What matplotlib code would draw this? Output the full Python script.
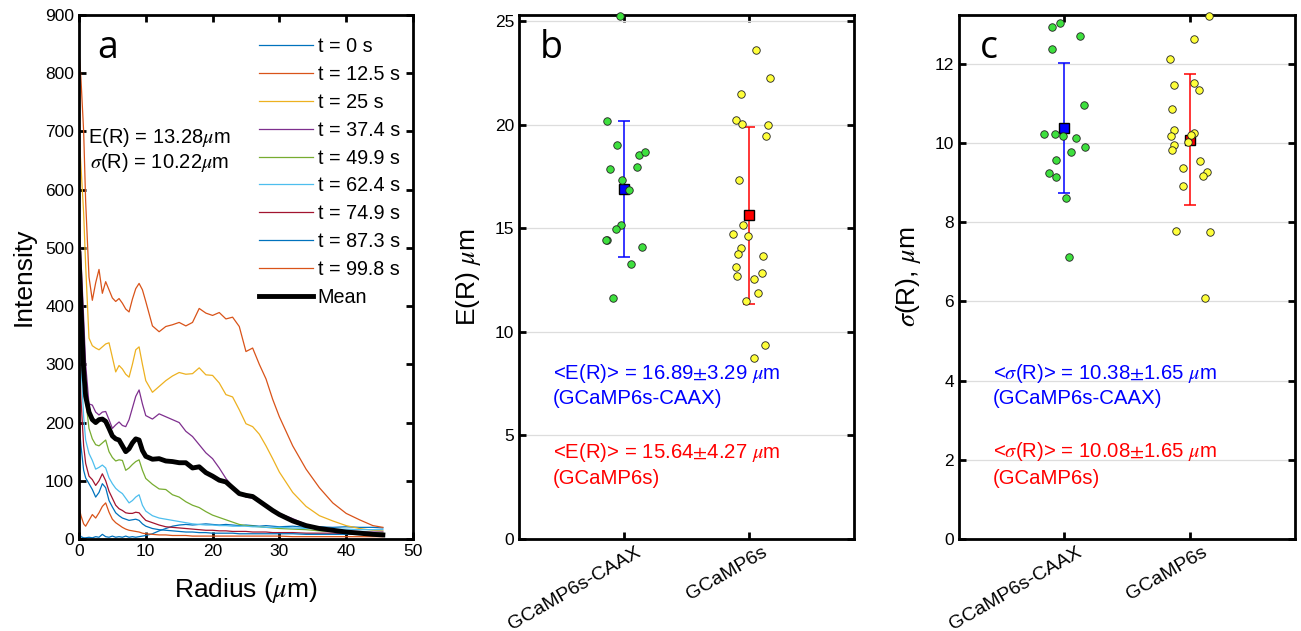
import matplotlib
matplotlib.use("Agg")
import matplotlib.pyplot as plt
import matplotlib.transforms as mtransforms

plt.rcParams['font.family'] = ['Liberation Sans', 'DejaVu Sans']
plt.rcParams['mathtext.fontset'] = 'stix'

# ---- panel a: radial intensity profiles ----
radius = [0, 0.3, 0.7, 1, 1.5, 2, 2.5, 3, 3.5, 4, 4.5, 5, 5.5, 6, 6.5, 7, 7.5, 8, 8.5, 9, 9.5, 10,
          11, 12, 13, 14, 15, 16, 17, 18, 19, 20, 21, 22, 23, 24, 25, 26, 27, 28, 29, 30,
          32, 34, 36, 38, 40, 42, 44, 45.5]

prof_t0 = [10, 4, 2, 2, 3, 2, 4, 3, 8, 4, 3, 5, 3, 4, 3, 5, 3, 4, 3, 4, 5, 6,
           9, 14, 18, 22, 24, 25, 24, 25, 26, 25, 24, 25, 24, 23, 24, 23, 22, 23, 22, 21,
           22, 20, 21, 20, 21, 20, 20, 19]
prof_t12 = [840, 790, 700, 580, 450, 410, 440, 463, 422, 442, 428, 414, 408, 413, 405, 395, 390, 412, 430, 439, 428, 408,
            366, 356, 365, 368, 372, 366, 372, 396, 388, 384, 389, 378, 381, 365, 322, 328, 300, 275, 240, 210,
            160, 120, 88, 62, 44, 33, 23, 20]
prof_t25 = [700, 640, 560, 470, 345, 332, 328, 325, 330, 335, 337, 312, 287, 298, 292, 283, 278, 300, 325, 330, 300, 272,
            252, 262, 272, 280, 286, 283, 284, 294, 282, 281, 268, 248, 244, 222, 198, 193, 180, 160, 138, 115,
            80, 56, 40, 31, 23, 18, 15, 14]
prof_t37 = [560, 480, 380, 300, 232, 230, 218, 213, 218, 219, 205, 190, 196, 201, 195, 193, 205, 225, 245, 256, 232, 212,
            206, 215, 210, 205, 200, 185, 176, 162, 148, 138, 122, 104, 90, 80, 72, 70, 64, 57, 50, 44,
            35, 25, 19, 16, 14, 13, 12, 12]
prof_t49 = [495, 400, 300, 240, 190, 172, 162, 160, 165, 170, 150, 140, 134, 136, 135, 118, 122, 128, 133, 136, 118, 104,
            94, 86, 85, 76, 72, 64, 58, 54, 47, 41, 37, 33, 29, 25, 23, 22, 21, 20, 19, 18,
            17, 16, 14, 13, 12, 12, 11, 10]
prof_t62 = [400, 300, 210, 170, 147, 135, 120, 123, 127, 122, 105, 95, 87, 82, 78, 70, 62, 66, 72, 76, 58, 48,
            40, 36, 34, 32, 30, 28, 26, 25, 24, 24, 23, 23, 22, 22, 22, 21, 21, 20, 20, 20,
            19, 18, 18, 17, 17, 16, 16, 16]
prof_t74 = [330, 240, 160, 130, 108, 102, 92, 100, 112, 100, 82, 70, 58, 52, 49, 45, 44, 44, 46, 45, 38, 32,
            28, 24, 21, 20, 19, 18, 17, 16, 15, 15, 14, 14, 13, 13, 13, 12, 12, 12, 11, 11,
            11, 10, 10, 10, 9, 9, 9, 9]
prof_t87 = [200, 160, 118, 105, 95, 85, 72, 80, 95, 88, 66, 55, 45, 40, 36, 34, 32, 33, 34, 32, 26, 22,
            18, 16, 15, 14, 13, 12, 12, 11, 11, 10, 10, 10, 10, 9, 9, 9, 9, 9, 9, 9,
            9, 8, 8, 8, 8, 8, 8, 8]
prof_t99 = [55, 40, 26, 22, 32, 42, 36, 45, 56, 62, 46, 34, 28, 24, 20, 17, 15, 14, 13, 12, 10, 9,
            8, 7, 7, 6, 6, 6, 5, 5, 5, 5, 5, 5, 5, 5, 5, 5, 5, 5, 5, 5,
            4, 4, 4, 4, 4, 4, 4, 4]
prof_mean = [490, 400, 290, 245, 218, 205, 200, 205, 206, 202, 190, 177, 172, 170, 160, 150, 155, 165, 172, 170, 152, 142,
             137, 138, 134, 133, 131, 131, 122, 124, 114, 108, 101, 98, 88, 78, 75, 73, 65, 57, 49, 42,
             31, 23, 18, 15, 12, 10, 8, 7]

profiles = [prof_t0, prof_t12, prof_t25, prof_t37, prof_t49, prof_t62, prof_t74, prof_t87, prof_t99]
times = ['0', '12.5', '25', '37.4', '49.9', '62.4', '74.9', '87.3', '99.8']
colors = ['#0072BD', '#D95319', '#EDB120', '#7E2F8E', '#77AC30', '#4DBEEE', '#A2142F', '#0072BD', '#D95319']

# ---- panels b, c: per-cell E(R) and sigma(R) ----
groups = ['GCaMP6s-CAAX', 'GCaMP6s']

er_caax_x = [0.97, 0.87, 0.95, 1.12, 1.17, 0.89, 1.11, 0.99, 1.04, 0.98, 0.94, 0.87, 0.86, 1.15, 1.06, 0.92]
er_caax_y = [25.24, 20.17, 19.02, 18.55, 18.69, 17.87, 17.97, 17.31, 16.84, 15.15, 14.95, 14.43, 14.46, 14.08, 13.26, 11.62]
er_gc_x = [2.05, 2.16, 1.93, 1.89, 1.94, 2.15, 2.13, 1.92, 1.95, 1.87, 1.99, 1.93, 1.91, 2.11, 1.89, 1.90,
           2.10, 2.04, 2.07, 1.97, 2.12, 2.04]
er_gc_y = [23.60, 22.25, 21.51, 20.21, 20.03, 19.98, 19.45, 17.34, 15.17, 14.71, 14.62, 14.04, 13.75, 13.66, 13.14, 12.68,
           12.85, 12.56, 11.87, 11.49, 9.36, 8.74]
er_mean = [16.89, 15.64]
er_sd = [3.29, 4.27]

sg_caax_x = [0.97, 0.91, 1.13, 0.91, 1.16, 0.84, 0.93, 0.99, 1.10, 1.17, 1.06, 0.94, 0.88, 0.94, 1.02, 1.04]
sg_caax_y = [13.02, 12.92, 12.70, 12.37, 10.96, 10.23, 10.22, 10.18, 10.13, 9.91, 9.77, 9.56, 9.23, 9.15, 8.62, 7.12]
sg_gc_x = [2.15, 2.03, 1.84, 1.87, 2.03, 2.07, 1.86, 1.87, 1.85, 2.03, 2.01, 1.87, 1.86, 1.98, 2.08, 1.94,
           2.13, 2.10, 1.94, 1.89, 2.16, 2.12]
sg_gc_y = [13.21, 12.62, 12.13, 11.47, 11.52, 11.33, 10.85, 10.32, 10.18, 10.25, 10.21, 9.95, 9.83, 10.03, 9.54, 9.36,
           9.27, 9.17, 8.91, 7.78, 7.75, 6.09]
sg_mean = [10.38, 10.08]
sg_sd = [1.65, 1.65]

fig = plt.figure(figsize=(13.01, 6.31), dpi=100)
ax_a = fig.add_axes([0.0607, 0.1458, 0.2567, 0.8304])
ax_b = fig.add_axes([0.3989, 0.1458, 0.2575, 0.8304])
ax_c = fig.add_axes([0.7371, 0.1458, 0.2583, 0.8304])

for ax in (ax_a, ax_b, ax_c):
    for sp in ax.spines.values():
        sp.set_linewidth(2)
    ax.tick_params(direction='in', length=5, width=2, top=True, right=True, labelsize=12.5)

# panel a
for prof, t, col in zip(profiles, times, colors):
    ax_a.plot(radius, prof, color=col, lw=0.9, label='t = %s s' % t)
ax_a.plot(radius, prof_mean, color='black', lw=3.5, label='Mean')
ax_a.set_xlim(0, 50)
ax_a.set_ylim(0, 900)
ax_a.set_xticks(range(0, 51, 10))
ax_a.set_yticks(range(0, 901, 100))
ax_a.set_xlabel(r'Radius ($\mu$m)', fontsize=19)
ax_a.set_ylabel('Intensity', fontsize=19)
ax_a.xaxis.set_label_coords(0.5, -0.07)
ax_a.yaxis.set_label_coords(-0.13, 0.5)
ax_a.legend(loc='upper left', bbox_to_anchor=(0.539, 0.958), frameon=False, fontsize=14.2,
            borderpad=0, borderaxespad=0, handlelength=2.75, handletextpad=0.22, labelspacing=0.45)
ax_a.text(0.054, 0.937, 'a', transform=ax_a.transAxes, fontsize=27, family='Open Sans', va='center')
ax_a.text(0.24, 0.767, r'E(R) = 13.28$\mu$m', transform=ax_a.transAxes, fontsize=14.5, ha='center', va='center')
ax_a.text(0.24, 0.718, r'$\sigma$(R) = 10.22$\mu$m', transform=ax_a.transAxes, fontsize=14.5, ha='center', va='center')

# shift rotated group labels a little to the right, as in the original
shift = mtransforms.ScaledTranslation(12 / 100, 0, fig.dpi_scale_trans)


def dot_panel(ax, cx, cy, gx, gy, means, sds, ylim, yticks, ylabel, letter, lines):
    ax.set_axisbelow(True)
    ax.grid(axis='y', color='#dddddd', lw=0.9)
    ax.errorbar([1], [means[0]], yerr=[sds[0]], color='blue', lw=1.1, capsize=4, capthick=1.1, zorder=2)
    ax.errorbar([2], [means[1]], yerr=[sds[1]], color='red', lw=1.1, capsize=4, capthick=1.1, zorder=2)
    ax.plot([1], [means[0]], 's', color='blue', mec='black', ms=7.5, mew=1, zorder=3)
    ax.plot([2], [means[1]], 's', color='red', mec='black', ms=7.5, mew=1, zorder=3)
    ax.plot(cx, cy, 'o', color='#3EE03E', mec='#222222', ms=5.4, mew=0.6, ls='none', zorder=4, clip_on=False)
    ax.plot(gx, gy, 'o', color='#FFFF3A', mec='#222222', ms=5.4, mew=0.6, ls='none', zorder=4, clip_on=False)
    ax.set_xlim(0.17, 2.83)
    ax.set_ylim(*ylim)
    ax.set_yticks(yticks)
    ax.set_xticks([1, 2])
    ax.set_xticklabels(groups, rotation=30, ha='right', rotation_mode='anchor', fontsize=14)
    for lab in ax.get_xticklabels():
        lab.set_transform(lab.get_transform() + shift)
    ax.set_ylabel(ylabel, fontsize=19)
    ax.yaxis.set_label_coords(-0.107, 0.5)
    ax.text(0.063, 0.937, letter, transform=ax.transAxes, fontsize=27, family='Open Sans', va='center')
    for (x, y, s, c) in lines:
        ax.text(x, y, s, color=c, fontsize=14.7, va='center', ha='left')


dot_panel(ax_b, er_caax_x, er_caax_y, er_gc_x, er_gc_y, er_mean, er_sd, (0, 25.3), range(0, 26, 5),
          r'E(R) $\mu$m', 'b',
          [(0.44, 8.0, r'<E(R)> = 16.89$\pm$3.29 $\mu$m', 'blue'),
           (0.44, 6.76, '(GCaMP6s-CAAX)', 'blue'),
           (0.44, 4.2, r'<E(R)> = 15.64$\pm$4.27 $\mu$m', 'red'),
           (0.44, 2.94, '(GCaMP6s)', 'red')])

dot_panel(ax_c, sg_caax_x, sg_caax_y, sg_gc_x, sg_gc_y, sg_mean, sg_sd, (0, 13.23), range(0, 13, 2),
          r'$\sigma$(R), $\mu$m', 'c',
          [(0.44, 4.19, r'<$\sigma$(R)> = 10.38$\pm$1.65 $\mu$m', 'blue'),
           (0.44, 3.54, '(GCaMP6s-CAAX)', 'blue'),
           (0.44, 2.2, r'<$\sigma$(R)> = 10.08$\pm$1.65 $\mu$m', 'red'),
           (0.44, 1.54, '(GCaMP6s)', 'red')])

fig.savefig('out.png', dpi=100)
